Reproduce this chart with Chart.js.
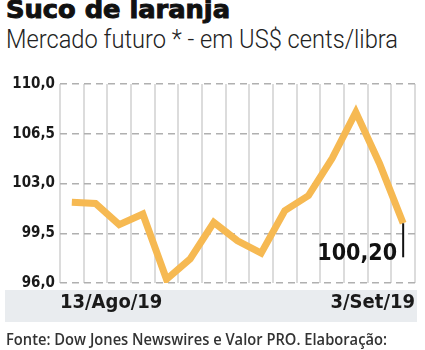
<!DOCTYPE html>
<html>
<head>
<meta charset="utf-8">
<script src="https://cdn.jsdelivr.net/npm/chart.js@4/dist/chart.umd.min.js"></script>
<style>
  html, body { margin: 0; padding: 0; background: #fff; width: 425px; height: 350px; overflow: hidden; }
  .txt { position: absolute; left: 6px; white-space: nowrap; line-height: 1; transform-origin: 0 0; }
  #title { top: -3px; font-family: "DejaVu Sans Condensed", "DejaVu Sans"; font-stretch: condensed; font-weight: bold; font-size: 25px; color: #111; -webkit-text-stroke: 0.9px #111; }
  #subtitle { top: 26px; font-family: Roboto, "Noto Sans"; font-weight: 300; font-size: 26px; color: #222; }
  #footer { top: 330px; font-family: "Open Sans"; font-weight: 600; font-size: 17px; color: #333; }
  canvas { position: absolute; left: 0; top: 0; }
</style>
</head>
<body>
<div id="title" class="txt" data-w="224">Suco de laranja</div>
<div id="subtitle" class="txt" data-w="392">Mercado futuro * - em US$ cents/libra</div>
<canvas id="c" width="425" height="350"></canvas>
<div id="footer" class="txt" data-w="381">Fonte: Dow Jones Newswires e Valor PRO. Elaboração:</div>
<script>
const dates = ['13/Ago/19','14/Ago/19','15/Ago/19','16/Ago/19','19/Ago/19','20/Ago/19','21/Ago/19','22/Ago/19','23/Ago/19','26/Ago/19','27/Ago/19','28/Ago/19','29/Ago/19','30/Ago/19','3/Set/19'];
const prices = [101.68, 101.6, 100.1, 100.85, 96.26, 97.7, 100.26, 98.97, 98.1, 101.09, 102.15, 104.77, 108.02, 104.41, 100.20];
const yMin = 96, yMax = 110, yStep = 3.5;

function fmt(v, d) { return v.toFixed(d).replace('.', ','); }

document.querySelectorAll('.txt').forEach(el => {
  const w = el.getBoundingClientRect().width;
  const target = +el.dataset.w;
  el.style.transform = 'scaleX(' + (target / w) + ')';
});

const condensed = '"DejaVu Sans Condensed", "DejaVu Sans"';

const bandPlugin = {
  id: 'band',
  beforeDraw(chart) {
    const ctx = chart.ctx, a = chart.chartArea;
    ctx.save();
    ctx.fillStyle = '#e9ecef';
    ctx.fillRect(5, a.bottom + 7, a.right + 2 - 5, 32);
    ctx.restore();
  }
};

const labelPlugin = {
  id: 'lastLabel',
  afterDatasetsDraw(chart) {
    const meta = chart.getDatasetMeta(0);
    const pt = meta.data[meta.data.length - 1];
    const ctx = chart.ctx;
    ctx.save();
    ctx.strokeStyle = '#111';
    ctx.lineWidth = 2;
    ctx.beginPath();
    ctx.moveTo(pt.x, pt.y);
    ctx.lineTo(pt.x, pt.y + 34);
    ctx.stroke();
    ctx.fillStyle = '#111';
    ctx.font = 'bold 23px ' + condensed;
    ctx.textAlign = 'right';
    ctx.textBaseline = 'middle';
    ctx.fillText(fmt(prices[prices.length - 1], 2), pt.x - 6, pt.y + 31);
    ctx.restore();
  }
};

new Chart(document.getElementById('c'), {
  type: 'line',
  data: {
    labels: dates,
    datasets: [{
      data: prices,
      xAxisID: 'x',
      yAxisID: 'y',
      borderColor: '#f6b952',
      borderWidth: 7,
      borderJoinStyle: 'miter',
      pointRadius: 0,
      tension: 0,
      fill: false
    }]
  },
  options: {
    responsive: false,
    animation: false,
    devicePixelRatio: 1,
    layout: { padding: { top: 84, right: 10, left: 0, bottom: 0 } },
    plugins: { legend: { display: false }, tooltip: { enabled: false } },
    scales: {
      x: {
        type: 'category',
        position: 'bottom',
        offset: true,
        grid: { offset: true, color: '#dcdcdc', lineWidth: 2, drawTicks: false },
        border: { display: false },
        ticks: { display: false },
        afterFit(s) { s.height = 0; }
      },
      xlab: {
        type: 'linear',
        position: 'bottom',
        min: 0,
        max: dates.length,
        grid: { display: false, drawTicks: false },
        border: { display: false },
        ticks: {
          stepSize: dates.length,
          autoSkip: false,
          maxRotation: 0,
          align: 'inner',
          padding: 8,
          color: '#1a1a1a',
          font: { family: condensed, weight: 'bold', size: 20 },
          callback(v) {
            if (v === 0) return dates[0];
            if (v === dates.length) return dates[dates.length - 1];
            return '';
          }
        },
        afterFit(s) { s.height = 67; }
      },
      y: {
        min: yMin,
        max: yMax,
        grid: { color: '#b0b0b0', lineWidth: 1.5, drawTicks: false },
        border: { display: false, dash: [7, 5] },
        ticks: {
          stepSize: yStep,
          padding: 5,
          color: '#1a1a1a',
          font: { family: condensed, weight: 'bold', size: 15 },
          callback(v) { return fmt(v, 1); }
        },
        afterFit(s) { s.width = 60; }
      }
    }
  },
  plugins: [bandPlugin, labelPlugin]
});
</script>
</body>
</html>
